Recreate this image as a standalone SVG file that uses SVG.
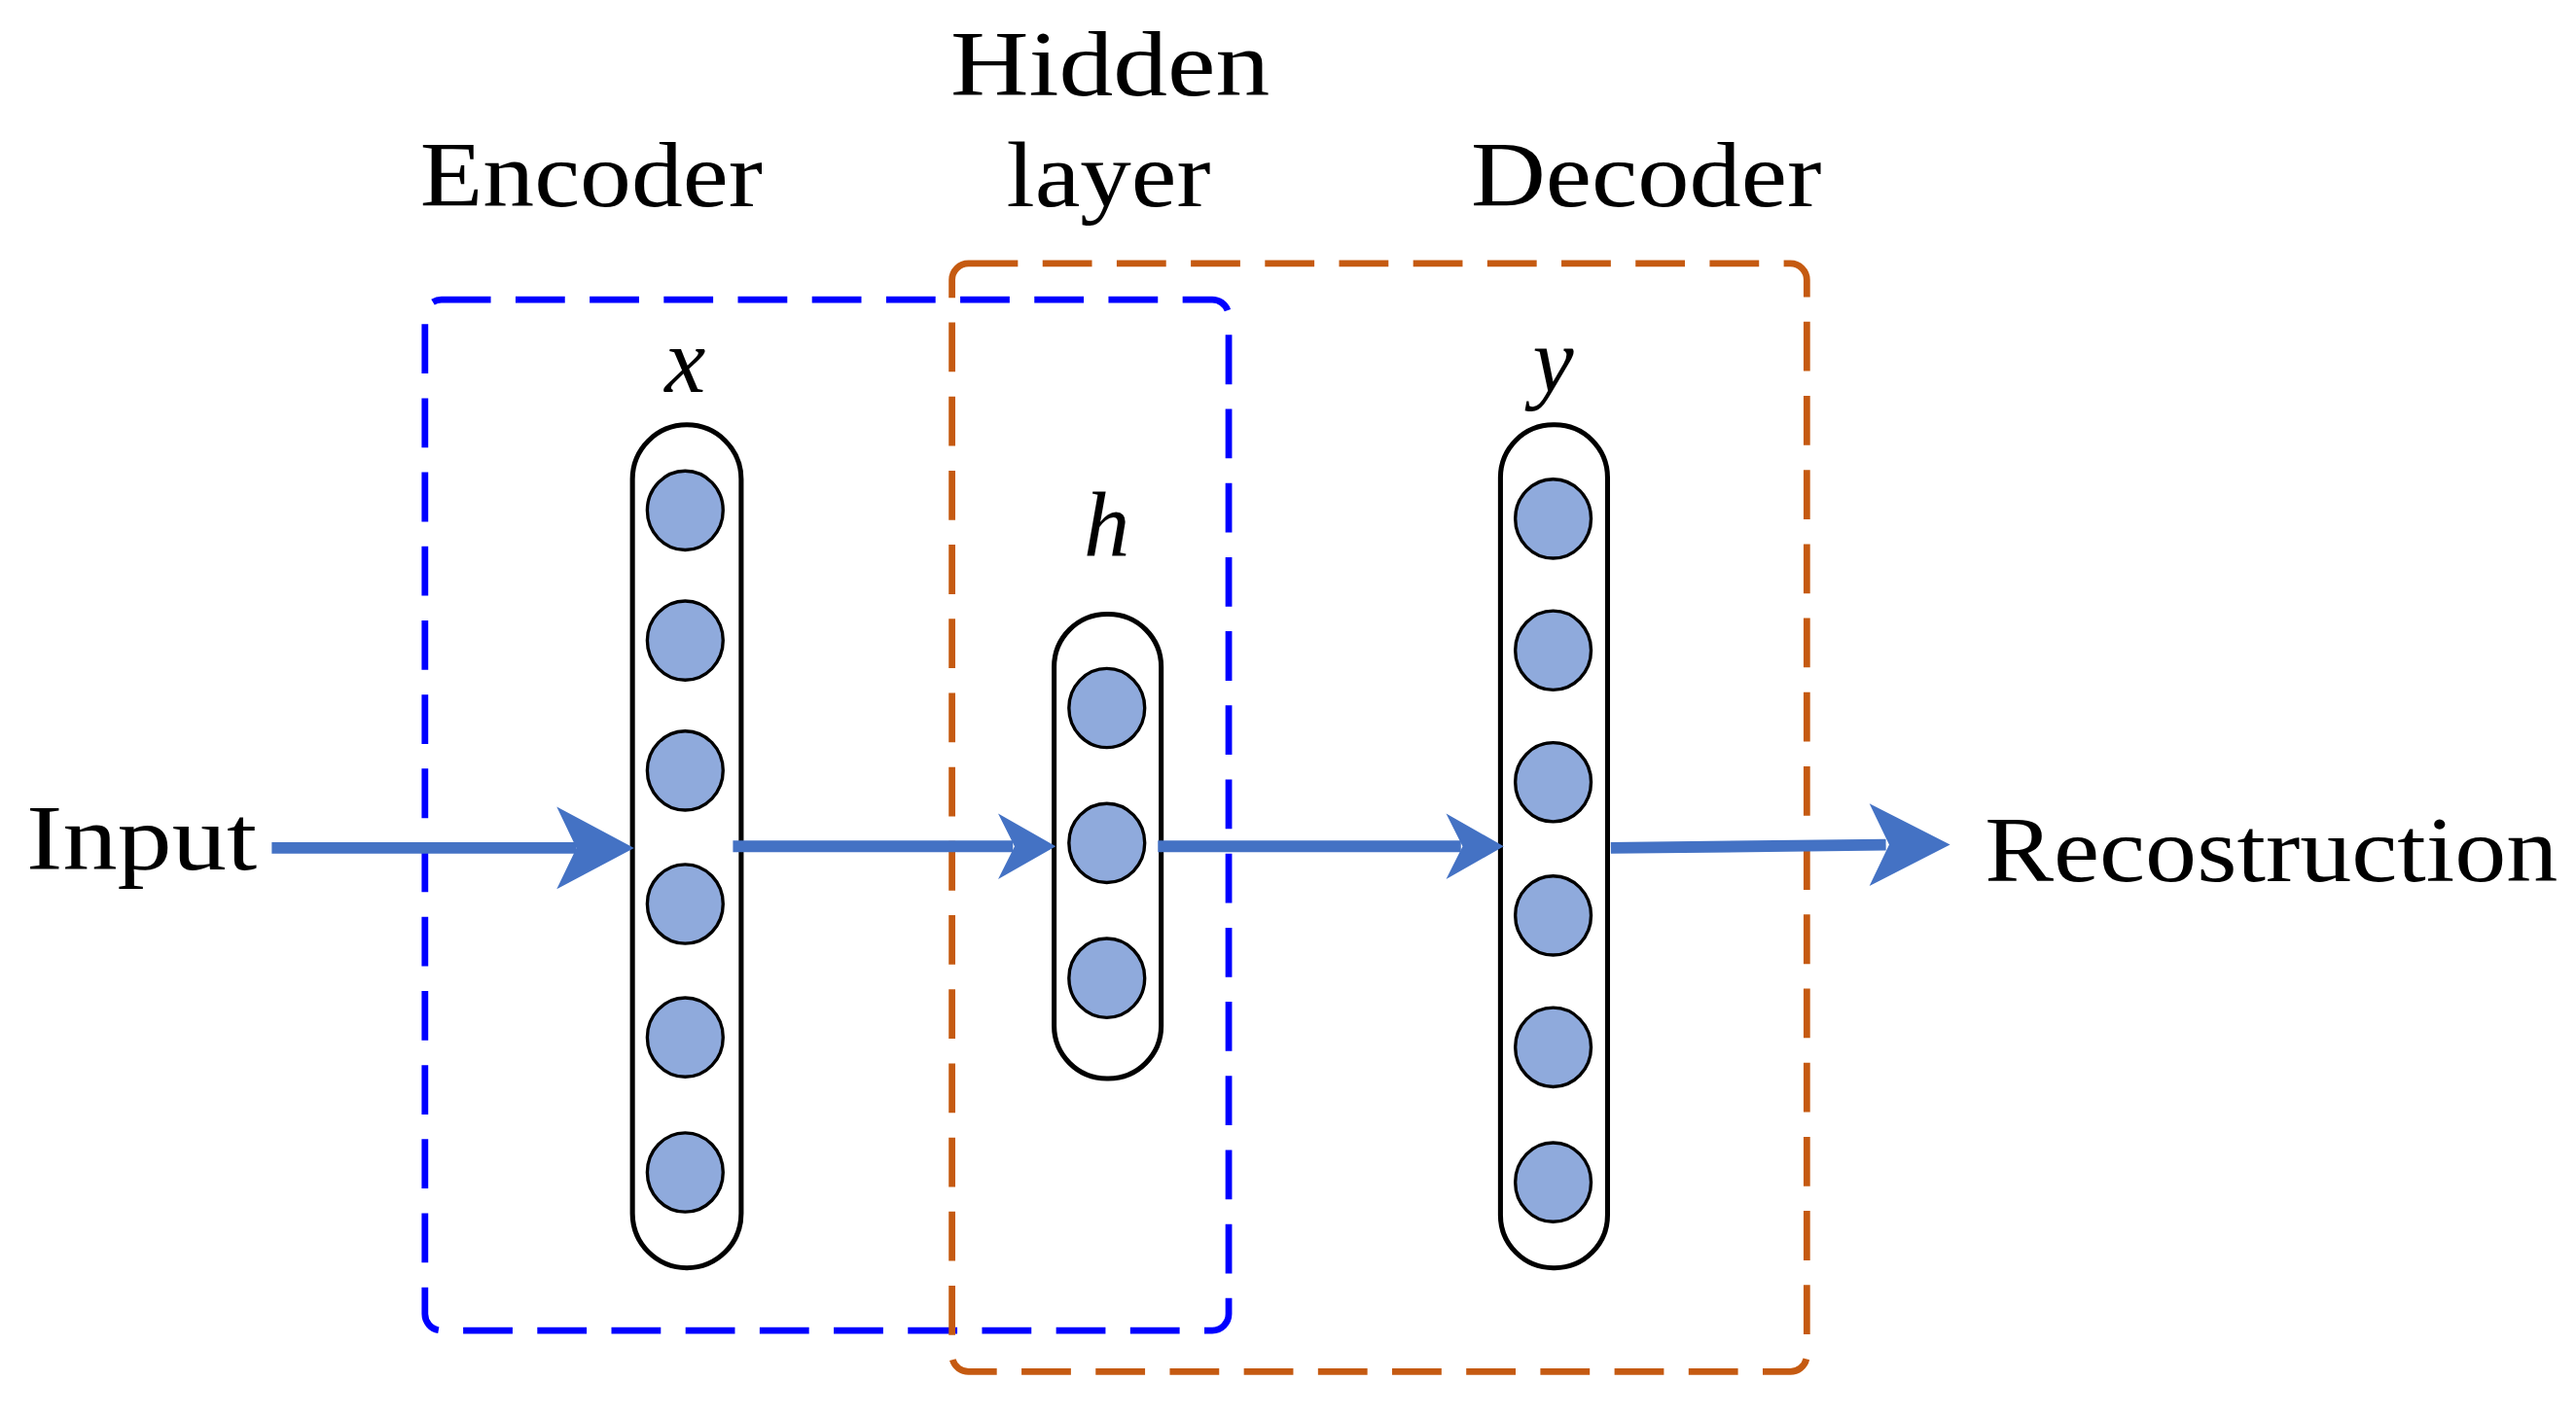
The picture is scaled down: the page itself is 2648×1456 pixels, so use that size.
<svg xmlns="http://www.w3.org/2000/svg" width="2648" height="1456" viewBox="0 0 2648 1456">
<style>
.t{font-family:"Liberation Serif",serif;font-size:56px;fill:#000}
.i{font-family:"Liberation Serif",serif;font-size:56px;font-style:italic;fill:#000}
.pill{fill:#fff;stroke:#000;stroke-width:3}
.n{fill:#8FAADC;stroke:#000;stroke-width:2}
.c{stroke:#4472C4;stroke-width:7;fill:none}
.h{fill:#4472C4}
</style>
<rect width="2648" height="1456" fill="#fff"/>
<g transform="scale(1.6931)">
<g id="encoder-box"><rect x="258" y="182" width="488" height="626" rx="10" fill="none" stroke="#0000FF" stroke-width="4" stroke-dasharray="30,15"/></g>
<g id="decoder-box"><rect x="578" y="160" width="519" height="673" rx="10" fill="none" stroke="#C55A11" stroke-width="4" stroke-dasharray="30,15"/></g>
<g id="labels">
<text class="t" x="255" y="125" textLength="208" lengthAdjust="spacingAndGlyphs">Encoder</text>
<text class="t" x="577" y="58" textLength="194" lengthAdjust="spacingAndGlyphs">Hidden</text>
<text class="t" x="611" y="125" textLength="124" lengthAdjust="spacingAndGlyphs">layer</text>
<text class="t" x="893" y="125" textLength="213" lengthAdjust="spacingAndGlyphs">Decoder</text>
<text class="t" x="16" y="528" textLength="140" lengthAdjust="spacingAndGlyphs">Input</text>
<text class="t" x="1205" y="535" textLength="348" lengthAdjust="spacingAndGlyphs">Recostruction</text>
</g>
<g id="layer-x">
<text class="i" x="416" y="238" text-anchor="middle">x</text>
<rect class="pill" x="384" y="258" width="66" height="512" rx="33"/>
<ellipse class="n" cx="416" cy="310" rx="23" ry="24"/><ellipse class="n" cx="416" cy="389" rx="23" ry="24"/><ellipse class="n" cx="416" cy="468" rx="23" ry="24"/><ellipse class="n" cx="416" cy="549" rx="23" ry="24"/><ellipse class="n" cx="416" cy="630" rx="23" ry="24"/><ellipse class="n" cx="416" cy="712" rx="23" ry="24"/>
</g>
<g id="layer-h">
<text class="i" x="672" y="338" text-anchor="middle">h</text>
<rect class="pill" x="640" y="373" width="65" height="282" rx="32"/>
<ellipse class="n" cx="672" cy="430" rx="23" ry="24"/><ellipse class="n" cx="672" cy="512" rx="23" ry="24"/><ellipse class="n" cx="672" cy="594" rx="23" ry="24"/>
</g>
<g id="layer-y">
<text class="i" x="943" y="238" text-anchor="middle">y</text>
<rect class="pill" x="911" y="258" width="65" height="512" rx="32"/>
<ellipse class="n" cx="943" cy="315" rx="23" ry="24"/><ellipse class="n" cx="943" cy="395" rx="23" ry="24"/><ellipse class="n" cx="943" cy="475" rx="23" ry="24"/><ellipse class="n" cx="943" cy="556" rx="23" ry="24"/><ellipse class="n" cx="943" cy="636" rx="23" ry="24"/><ellipse class="n" cx="943" cy="718" rx="23" ry="24"/>
</g>
<g id="connectors">
<line class="c" x1="165" y1="515" x2="350" y2="515"/><path class="h" d="M385,515 L338,490 L350,515 L338,540 Z"/>
<line class="c" x1="445" y1="514" x2="615" y2="514"/><path class="h" d="M641,514 L606,494 L616,514 L606,534 Z"/>
<line class="c" x1="703" y1="514" x2="887" y2="514"/><path class="h" d="M913,514 L878,494 L888,514 L878,534 Z"/>
<line class="c" x1="978" y1="515" x2="1145" y2="513"/><path class="h" d="M1184,513 L1135,488 L1147,513 L1135,538 Z"/>
</g>
</g>
</svg>
